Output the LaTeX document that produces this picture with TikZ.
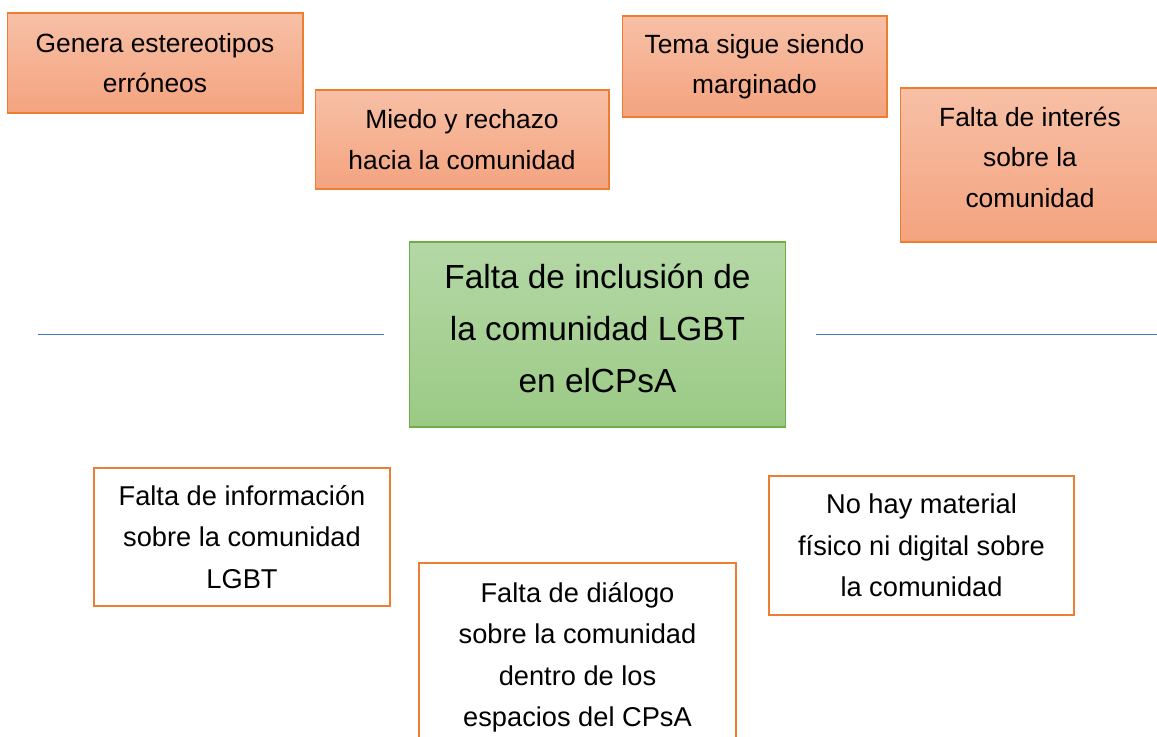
\documentclass[tikz,border=0pt]{standalone}
\usepackage{fontspec}
\setmainfont{Liberation Sans}
\usepackage{xcolor}
\usepackage{tikz}

\definecolor{boxline}{HTML}{ED7D31}
\definecolor{peachtop}{HTML}{F7C0A6}
\definecolor{peachbot}{HTML}{F4A37F}
\definecolor{greentop}{HTML}{B4D8A6}
\definecolor{greenbot}{HTML}{9BCA85}
\definecolor{greenline}{HTML}{70AD47}
\definecolor{axisblue}{HTML}{4472C4}

\tikzset{
    effect/.style={rectangle, draw=boxline, line width=.6pt, top color=peachtop, bottom color=peachbot,
        align=center, font=\fontsize{15}{23}\selectfont},
    cause/.style={rectangle, draw=boxline, line width=1.5pt, fill=white,
        align=center, font=\fontsize{15.5}{23.5}\selectfont},
    problem/.style={rectangle, draw=greenline, line width=.6pt, top color=greentop, bottom color=greenbot,
        align=center, font=\fontsize{19}{29.5}\selectfont},
    axis/.style={draw=axisblue, line width=.5pt}
}

\begin{document}
\begin{tikzpicture}[x=0.02cm, y=-0.02cm]
        \useasboundingbox (0,0) rectangle (1157,737);
        % effects (top row)
        \node[effect, minimum width=5.92cm, minimum height=2cm] (estereotipos) at (155,63) {Genera estereotipos\\erróneos};
        \node[effect, minimum width=5.88cm, minimum height=1.98cm] (miedo) at (462,139.5) {Miedo y rechazo\\hacia la comunidad};
        \node[effect, minimum width=5.3cm, minimum height=2.02cm] (marginado) at (754.5,66.5) {Tema sigue siendo\\marginado};
        \node[effect, minimum width=5.2cm, minimum height=3.08cm, text depth=9pt] (interes) at (1030,165) {Falta de interés\\sobre la\\comunidad};
        % central problem
        \node[problem, minimum width=7.54cm, minimum height=3.7cm, text depth=7.5pt] (inclusion) at (597.5,334.5) {Falta de inclusión de\\la comunidad LGBT\\en elCPsA};
        % axis
        \coordinate (ejeA) at (38,334);
        \coordinate (ejeB) at (384,334);
        \coordinate (ejeC) at (816,334);
        \coordinate (ejeD) at (1157,334);
        \draw[axis] (ejeA) -- (ejeB);
        \draw[axis] (ejeC) -- (ejeD);
        % causes (bottom row)
        \node[cause, minimum width=5.92cm, minimum height=2.76cm] (informacion) at (242,537) {Falta de información\\sobre la comunidad\\LGBT};
        \node[cause, minimum width=6.34cm, minimum height=3.94cm, text depth=8pt] (dialogo) at (577.5,661.5) {Falta de diálogo\\sobre la comunidad\\dentro de los\\espacios del CPsA};
        \node[cause, minimum width=6.1cm, minimum height=2.78cm] (material) at (921.5,545.5) {No hay material\\físico ni digital sobre\\la comunidad};
\end{tikzpicture}
\end{document}
